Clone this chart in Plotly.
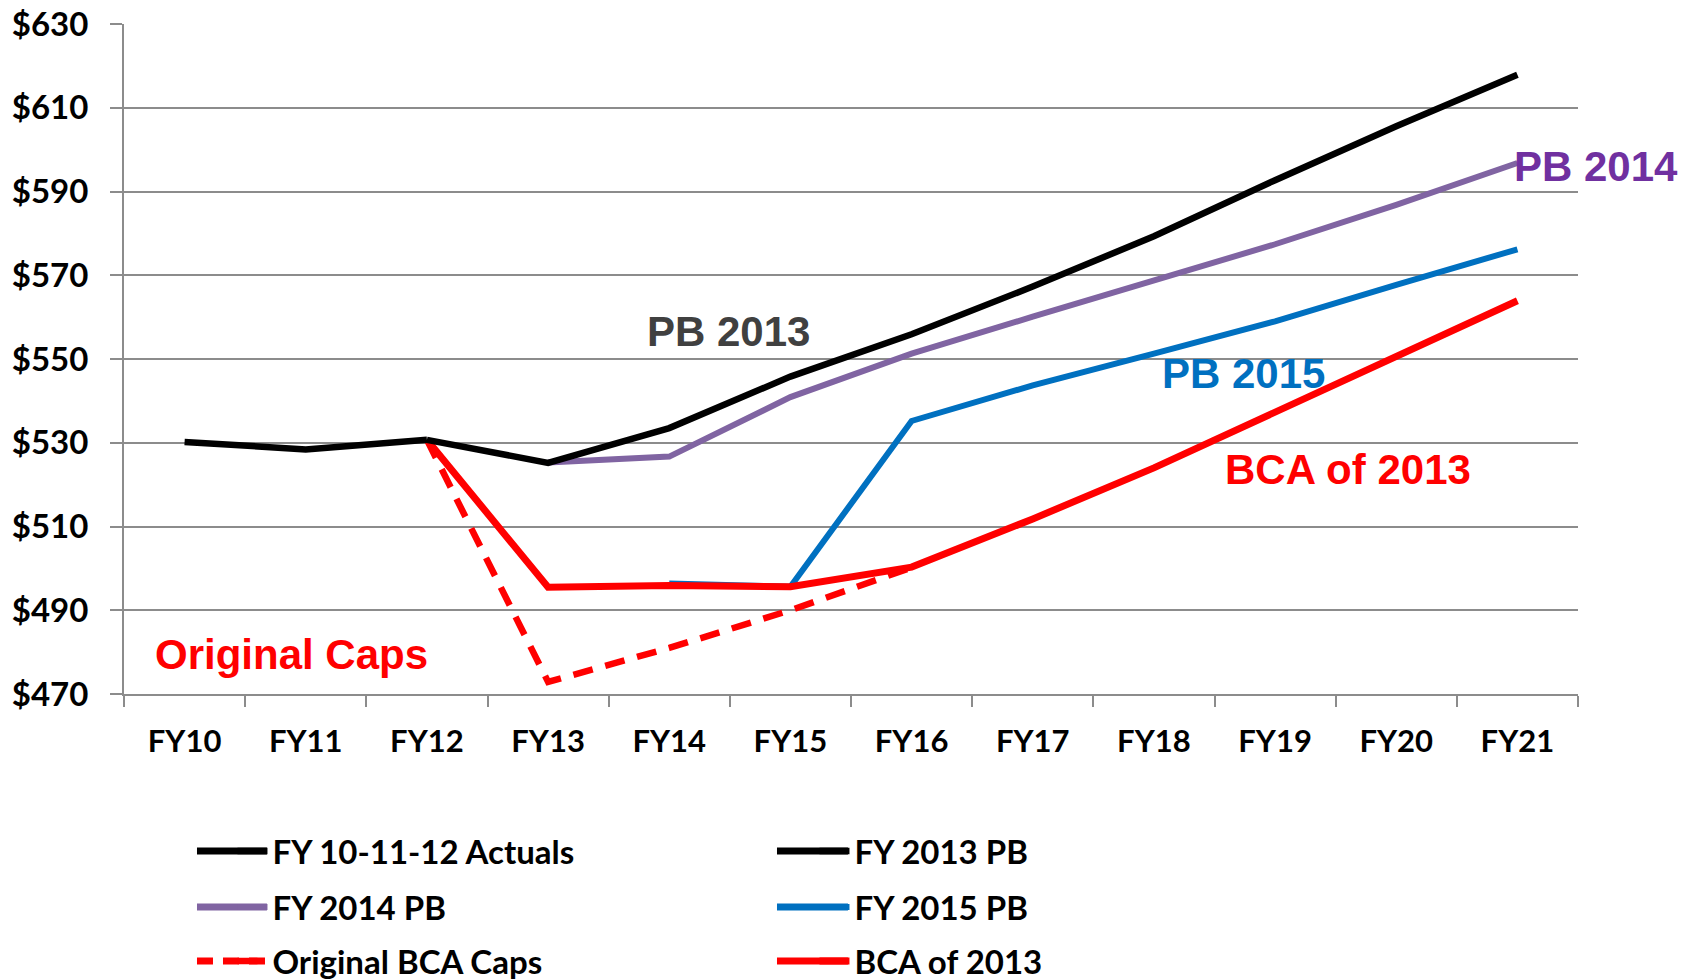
import plotly.graph_objects as go

categories = ["FY10", "FY11", "FY12", "FY13", "FY14", "FY15", "FY16",
              "FY17", "FY18", "FY19", "FY20", "FY21"]

actuals = [530.2, 528.4, 530.7, None, None, None, None, None, None, None, None, None]
pb2013 = [None, None, 530.7, 525.2, 533.5, 545.8, 555.9, 567.3, 579.3, 592.7, 605.6, 617.9]
pb2014 = [None, None, None, 525.3, 526.7, 540.9, 551.3, 560.1, 568.6, 577.4, 586.8, 596.8]
pb2015 = [None, None, None, None, 496.4, 495.6, 535.2, 543.7, 551.3, 559.0, 567.7, 576.2]
orig_caps = [None, None, 530.7, 472.9, 481.0, 490.0, 500.2, None, None, None, None, None]
bca2013 = [None, None, 530.7, 495.5, 495.9, 495.6, 500.3, 511.8, 524.0, 537.2, 550.8, 563.9]

y_ticks = [470, 490, 510, 530, 550, 570, 590, 610, 630]
y_tick_labels = ["$" + str(v) for v in y_ticks]

YTICK_FONT = dict(family="Lato", size=33, color="black", weight="bold")
XTICK_FONT = dict(family="Lato", size=31, color="black", weight="bold")
LEG_FONT = dict(family="Lato", size=33, color="black", weight="bold")

fig = go.Figure()

def add(name, y, color, width, dash="solid", legend="legend"):
    fig.add_trace(go.Scatter(
        x=categories, y=y, name=name, mode="lines",
        line=dict(color=color, width=width, dash=dash),
        connectgaps=False, legend=legend,
    ))

# draw order: dashed caps under red
add("Original BCA Caps", orig_caps, "#FF0000", 6.5, dash="20px,13px", legend="legend3")
add("FY 2015 PB", pb2015, "#0070C0", 6, legend="legend2")
add("BCA of 2013", bca2013, "#FF0000", 7, legend="legend3")
add("FY 2014 PB", pb2014, "#8064A2", 6, legend="legend2")
add("FY 2013 PB", pb2013, "#000000", 6.5, legend="legend")
add("FY 10-11-12 Actuals", actuals, "#000000", 6.5, legend="legend")

ann_font = "Liberation Sans, Arial, sans-serif"
annotations = [
    dict(x=4.49, xref="x", y=556.6, text="<b>PB 2013</b>", color="#404040"),
    dict(x=1.0124, xref="paper", y=595.9, text="<b>PB 2014</b>", color="#7030A0"),
    dict(x=8.74, xref="x", y=546.6, text="<b>PB 2015</b>", color="#0070C0"),
    dict(x=9.60, xref="x", y=523.7, text="<b>BCA of 2013</b>", color="#FF0000"),
    dict(x=0.883, xref="x", y=479.5, text="<b>Original Caps</b>", color="#FF0000"),
]
for a in annotations:
    fig.add_annotation(x=a["x"], y=a["y"], xref=a["xref"], yref="y", text=a["text"],
                       showarrow=False, xanchor="center", yanchor="middle",
                       font=dict(family=ann_font, size=42, color=a["color"]))

# legend rows (paper y) and longer sample strokes like the original
row_y = [-0.2343, -0.3179, -0.3985]
col_x = [(0.0502, 0.0983), (0.4491, 0.4979)]
samples = [
    (0, 0, "#000000", 7, "solid"), (0, 1, "#000000", 7, "solid"),
    (1, 0, "#8064A2", 7, "solid"), (1, 1, "#0070C0", 7, "solid"),
    (2, 0, "#FF0000", 7, "16px,10px"), (2, 1, "#FF0000", 7, "solid"),
]
for r, c, color, w, dash in samples:
    fig.add_shape(type="line", xref="paper", yref="paper",
                  x0=col_x[c][0], x1=col_x[c][1], y0=row_y[r], y1=row_y[r],
                  line=dict(color=color, width=w, dash=dash))

leg_common = dict(orientation="h", x=0.0746, xanchor="left", yanchor="middle",
                  font=LEG_FONT, entrywidth=537, entrywidthmode="pixels",
                  bgcolor="rgba(0,0,0,0)", borderwidth=0, traceorder="reversed")

fig.update_layout(
    width=1687, height=980,
    margin=dict(l=124, r=109, t=24, b=286, autoexpand=False),
    paper_bgcolor="white", plot_bgcolor="white",
    showlegend=True,
    legend=dict(leg_common, y=row_y[0]),
    legend2=dict(leg_common, y=row_y[1]),
    legend3=dict(leg_common, y=row_y[2], traceorder="normal"),
    xaxis=dict(
        type="category", categoryorder="array", categoryarray=categories,
        range=[-0.5, 11.5], showgrid=False, showline=True, linecolor="#8C8C8C",
        linewidth=2, ticks="outside", ticklen=11, tickwidth=2, tickcolor="#8C8C8C",
        tickson="boundaries", tickfont=XTICK_FONT, ticklabelstandoff=19,
    ),
    yaxis=dict(
        range=[470, 630], tickmode="array", tickvals=y_ticks, ticktext=y_tick_labels,
        showgrid=True, ticklabeloverflow="allow",
        gridcolor="#8C8C8C", gridwidth=2, showline=True, linecolor="#8C8C8C",
        linewidth=2, ticks="outside", ticklen=12, tickwidth=2, tickcolor="#8C8C8C",
        tickfont=YTICK_FONT, ticklabelstandoff=15, zeroline=False,
    ),
)

fig.write_html("out.html", config={"displayModeBar": False},
               post_script="document.body.style.margin='0';document.body.style.overflow='hidden';")
